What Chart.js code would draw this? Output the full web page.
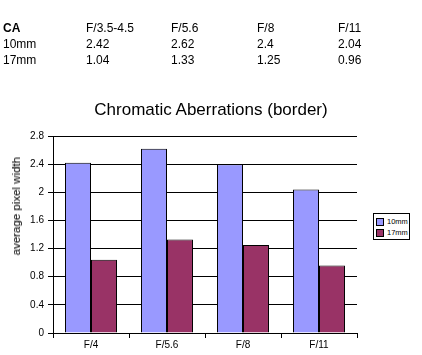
<!DOCTYPE html>
<html>
<head>
<meta charset="utf-8">
<script src="https://cdn.jsdelivr.net/npm/chart.js@4/dist/chart.umd.min.js"></script>
<style>
  html, body { margin:0; padding:0; background:#fff; }
  #wrap { position:relative; width:422px; height:355px; overflow:hidden; font-family:"Liberation Sans", Arial, sans-serif; color:#000; }
  #c { position:absolute; left:0; top:0; }
  .t { position:absolute; font-size:12px; color:#000; white-space:nowrap; line-height:14px; }
  #title { position:absolute; left:0; width:422px; top:100px; text-align:center; font-size:17px; line-height:20px; color:#000; }
  #ylab { position:absolute; left:10px; top:157px; writing-mode:vertical-rl; transform:rotate(180deg); font-size:11.5px; line-height:13px; white-space:nowrap; color:#000; }
  #legend { position:absolute; left:373px; top:213px; width:35px; height:25px; border:1px solid #000; font-size:7.5px; line-height:9px; background:#fff; color:#000; }
  .li { position:absolute; left:2px; height:10px; }
  .sw { position:absolute; left:0; top:1px; width:6px; height:6px; border:1px solid #000; }
  .lt { position:absolute; left:11px; top:0px; }
</style>
</head>
<body>
<div id="wrap">
  <canvas id="c" width="422" height="355"></canvas>
  <div id="table"></div>
  <div id="title">Chromatic Aberrations (border)</div>
  <div id="ylab">average pixel width</div>
  <div id="legend"></div>
</div>
<script>
const tableHeader = ["CA", "F/3.5-4.5", "F/5.6", "F/8", "F/11"];
const categories = ["F/4", "F/5.6", "F/8", "F/11"];
const series10mm = [2.42, 2.62, 2.4, 2.04];
const series17mm = [1.04, 1.33, 1.25, 0.96];
const seriesNames = ["10mm", "17mm"];
const seriesColors = ["#9999FF", "#993366"];
const yTicks = [0, 0.4, 0.8, 1.2, 1.6, 2, 2.4, 2.8];

// table text
const colX = [3, 86, 171, 257, 338];
const rowY = [21, 37, 53];
const tableRows = [
  tableHeader,
  [seriesNames[0]].concat(series10mm.map(String)),
  [seriesNames[1]].concat(series17mm.map(String))
];
const tbl = document.getElementById('table');
tableRows.forEach((row, r) => {
  row.forEach((txt, i) => {
    const d = document.createElement('div');
    d.className = 't';
    d.style.left = colX[i] + 'px';
    d.style.top = rowY[r] + 'px';
    if (r === 0 && i === 0) d.style.fontWeight = 'bold';
    d.textContent = txt;
    tbl.appendChild(d);
  });
});

// legend
const lg = document.getElementById('legend');
seriesNames.forEach((n, i) => {
  const li = document.createElement('div');
  li.className = 'li';
  li.style.top = (3 + i * 11) + 'px';
  li.innerHTML = '<div class="sw" style="background:' + seriesColors[i] + '"></div><div class="lt">' + n + '</div>';
  lg.appendChild(li);
});

const FONT = '"Liberation Sans", Arial, sans-serif';
new Chart(document.getElementById('c'), {
  type: 'bar',
  data: {
    labels: categories,
    datasets: [
      { label: seriesNames[0], data: series10mm, backgroundColor: seriesColors[0], borderColor: '#000', borderWidth: 1, categoryPercentage: 0.684, barPercentage: 1 },
      { label: seriesNames[1], data: series17mm, backgroundColor: seriesColors[1], borderColor: '#000', borderWidth: 1, categoryPercentage: 0.684, barPercentage: 1 }
    ]
  },
  options: {
    responsive: false,
    animation: false,
    devicePixelRatio: 1,
    layout: { padding: { left: 0, right: 65, top: 136, bottom: 0 } },
    plugins: { legend: { display: false }, tooltip: { enabled: false }, title: { display: false } },
    scales: {
      x: {
        grid: { display: true, drawOnChartArea: false, offset: true, color: '#000', tickLength: 5, lineWidth: 1 },
        border: { color: '#000', width: 1 },
        ticks: { color: '#000', font: { family: FONT, size: 10 }, padding: 1, maxRotation: 0 },
        afterFit: (s) => { s.height = 22; }
      },
      y: {
        min: 0, max: 2.8,
        afterBuildTicks: (s) => { s.ticks = yTicks.map(v => ({ value: v })); },
        grid: { color: '#000', tickLength: 5, lineWidth: 1 },
        border: { color: '#000', width: 1 },
        ticks: { color: '#000', font: { family: FONT, size: 10 }, padding: 4,
                 callback: (v) => String(Math.round(v * 10) / 10) },
        afterFit: (s) => { s.width = 53; }
      }
    }
  }
});
</script>
</body>
</html>
